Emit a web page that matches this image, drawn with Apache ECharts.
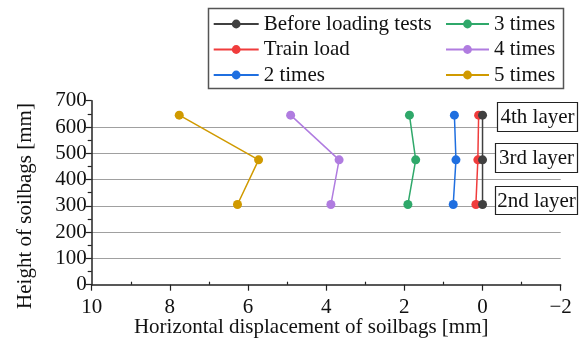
<!DOCTYPE html>
<html>
<head>
<meta charset="utf-8">
<script src="https://cdn.jsdelivr.net/npm/echarts@6/dist/echarts.min.js"></script>
<style>
  html, body { margin: 0; padding: 0; background: #fff; }
  #chart { width: 579px; height: 343px; }
</style>
</head>
<body>
<div id="chart"></div>
<script>
// Measured soilbag heights [mm] at the three monitored layers (2nd, 3rd, 4th)
const heights = [305, 475, 645];

// Horizontal displacement [mm] per loading stage, ordered like `heights`
const beforeLoading = [0.0, 0.0, 0.0];
const trainLoad     = [0.17, 0.12, 0.10];
const times2        = [0.75, 0.68, 0.72];
const times3        = [1.91, 1.71, 1.87];
const times4        = [3.88, 3.67, 4.91];
const times5        = [6.27, 5.73, 7.76];

const seriesNames = ['Before loading tests', 'Train load', '2 times', '3 times', '4 times', '5 times'];
const seriesValues = [beforeLoading, trainLoad, times2, times3, times4, times5];
const seriesColors = ['#404040', '#F03C3C', '#1F6FE0', '#2FA86A', '#B07CE0', '#D09A00'];

const layerNames = ['4th layer', '3rd layer', '2nd layer'];

const xTicks = { min: -2, max: 10, step: 2 };
const yTicks = { min: 0, max: 700, step: 100 };

const FONT = '"Liberation Serif", "Times New Roman", serif';
const FS = 21;

const chart = echarts.init(document.getElementById('chart'), null, { renderer: 'canvas' });

const series = seriesNames.map((name, i) => ({
  name,
  type: 'line',
  data: seriesValues[i].map((v, k) => [v, heights[k]]),
  symbol: 'circle',
  symbolSize: 9,
  color: seriesColors[i],
  lineStyle: { width: 1.5, color: seriesColors[i] },
  itemStyle: { color: seriesColors[i] },
  emphasis: { disabled: true },
  animation: false,
  z: 10 - i
}));

const legendCommon = {
  orient: 'vertical',
  itemHeight: 11,
  itemGap: 4.5,
  padding: 0,
  top: 13.5,
  selectedMode: false,
  textStyle: { fontFamily: FONT, fontSize: FS, color: '#111', lineHeight: 21 }
};

const layerBoxes = [
  { x: 497, y: 102, w: 80, h: 29 },
  { x: 495, y: 143, w: 82, h: 29 },
  { x: 495, y: 186, w: 82, h: 28 }
];

const graphics = [
  {
    type: 'rect',
    shape: { x: 208.5, y: 8.5, width: 355, height: 80 },
    style: { fill: 'none', stroke: '#555', lineWidth: 1.5 },
    silent: true
  },
  {
    // y-axis title, set as free text so it can sit slightly below the axis centre
    type: 'text',
    x: 25,
    y: 206,
    rotation: Math.PI / 2,
    silent: true,
    style: { text: 'Height of soilbags [mm]', font: FS + 'px ' + FONT, fill: '#111', align: 'center', verticalAlign: 'middle' }
  }
];
layerNames.forEach((t, i) => {
  const b = layerBoxes[i];
  graphics.push({
    type: 'rect',
    z: 100,
    silent: true,
    shape: { x: b.x + 0.5, y: b.y + 0.5, width: b.w, height: b.h },
    style: { fill: '#fff', stroke: '#222', lineWidth: 1.2 }
  });
  graphics.push({
    type: 'text',
    z: 101,
    silent: true,
    x: b.x + b.w / 2 + 0.5,
    y: b.y + b.h / 2 + 1,
    style: { text: t, font: FS + 'px ' + FONT, fill: '#111', align: 'center', verticalAlign: 'middle' }
  });
});

const tickStyle = { color: '#222', width: 1.2 };

chart.setOption({
  animation: false,
  backgroundColor: '#fff',
  grid: {
    left: 91.7, right: 18.3, top: 100.7, bottom: 58.3,
    containLabel: false,
    outerBoundsMode: 'none'
  },
  legend: [
    Object.assign({}, legendCommon, { left: 212.7, itemWidth: 45, data: seriesNames.slice(0, 3) }),
    Object.assign({}, legendCommon, { left: 445, itemWidth: 43, data: seriesNames.slice(3) })
  ],
  xAxis: [
    {
      type: 'value',
      inverse: true,
      min: xTicks.min,
      max: xTicks.max,
      interval: xTicks.step,
      name: 'Horizontal displacement of soilbags [mm]',
      nameLocation: 'middle',
      nameGap: 32,
      nameMoveOverlap: false,
      nameTextStyle: { fontFamily: FONT, fontSize: FS, color: '#111', padding: [0, 30, 0, 0] },
      axisLine: { show: true, onZero: false, lineStyle: { color: '#222', width: 1.5 } },
      axisTick: { show: true, inside: false, length: 6, lineStyle: tickStyle },
      minorTick: { show: false },
      splitLine: { show: false },
      axisLabel: {
        fontFamily: FONT, fontSize: FS, color: '#111', margin: 12,
        formatter: v => (v < 0 ? '\u2212' + (-v) : String(v))
      }
    },
    {
      // companion axis carrying only the short inward minor ticks
      type: 'value',
      inverse: true,
      position: 'bottom',
      min: xTicks.min,
      max: xTicks.max,
      interval: xTicks.step,
      axisLine: { show: false, onZero: false },
      axisTick: { show: false, inside: true },
      minorTick: { show: true, splitNumber: 2, length: 3, lineStyle: tickStyle },
      splitLine: { show: false },
      axisLabel: { show: false }
    }
  ],
  yAxis: {
    type: 'value',
    min: yTicks.min,
    max: yTicks.max,
    interval: yTicks.step,
    axisLine: { show: true, onZero: false, lineStyle: { color: '#222', width: 1.5 } },
    axisTick: { show: true, inside: false, length: 6, lineStyle: tickStyle },
    minorTick: { show: true, splitNumber: 2, length: 4, lineStyle: tickStyle },
    splitLine: { show: true, showMinLine: false, showMaxLine: false, lineStyle: { color: '#a0a0a0', width: 1.2 } },
    axisLabel: { fontFamily: FONT, fontSize: FS, color: '#111', margin: 5 }
  },
  graphic: graphics,
  series
});
</script>
</body>
</html>
